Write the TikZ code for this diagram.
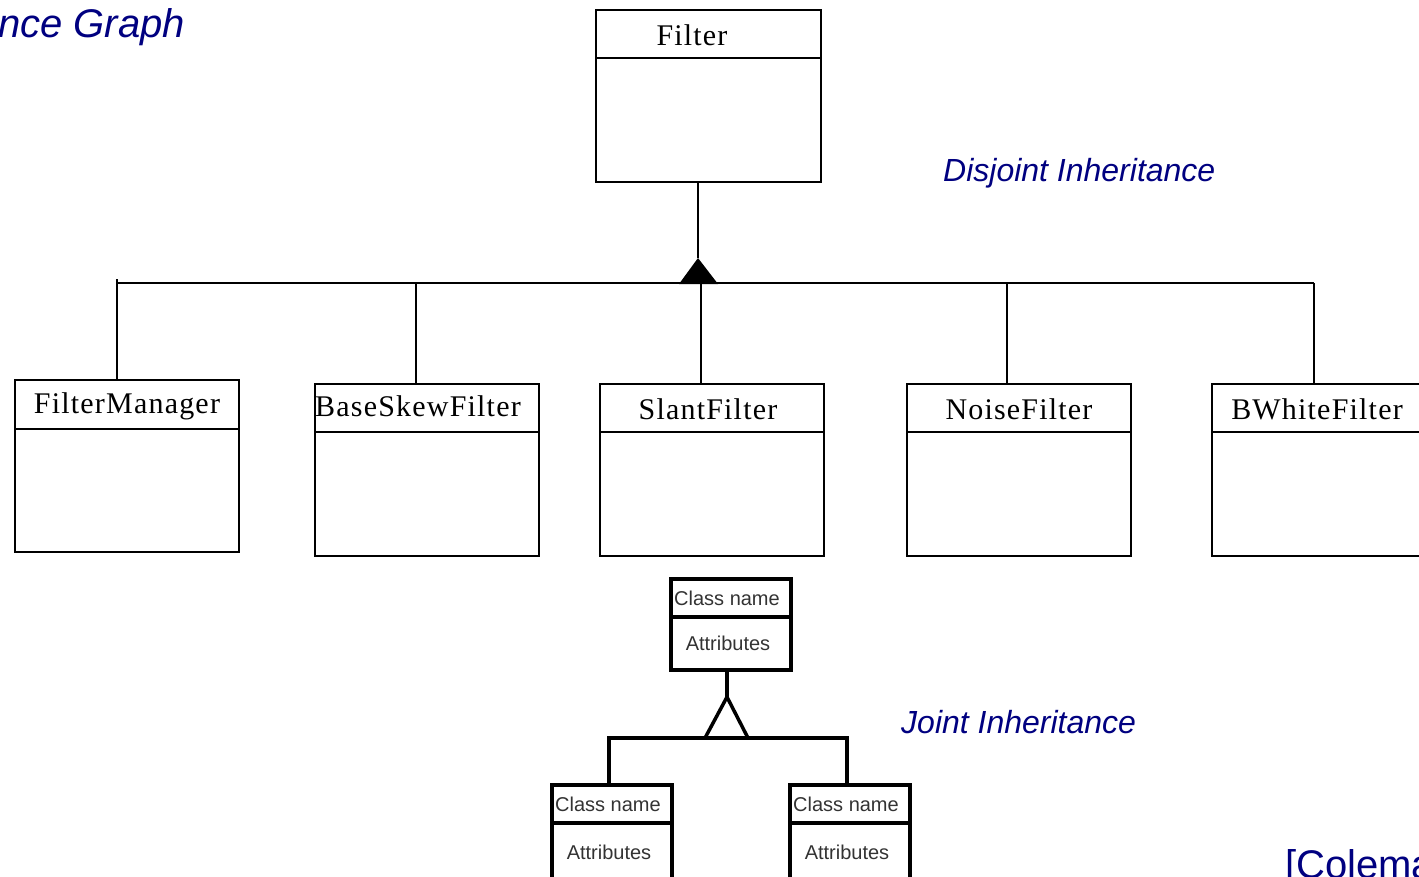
\documentclass[tikz,border=0pt]{standalone}
\usepackage{fontspec}
\setmainfont{Liberation Serif}
\newfontfamily\sansf{Liberation Sans}
\newfontfamily\umlfont[LetterSpace=4]{Liberation Serif}
\definecolor{labelblue}{HTML}{000080}
\begin{document}
\begin{tikzpicture}[x=1pt,y=-1pt,
  clsbox/.style={draw, line width=1.8pt, inner sep=0pt, anchor=north west, minimum width=224pt, minimum height=172pt},
  clsname/.style={font=\umlfont\fontsize{30}{36}\selectfont, inner sep=0pt},
  lbl/.style={font=\sansf\itshape\fontsize{32}{38}\selectfont, text=labelblue, inner sep=0pt},
  conn/.style={line width=1.8pt},
  jbox/.style={draw, line width=3.5pt, inner sep=0pt, anchor=north west, minimum width=120pt},
  jtext/.style={font=\sansf\fontsize{20}{24}\selectfont, text=black!80, inner sep=0pt},
  jconn/.style={line width=3.5pt, line join=miter}
]
\useasboundingbox (0,0) rectangle (1419,876);
\clip (0,0) rectangle (1419,876);

% titles / labels
\node[lbl, font=\sansf\itshape\fontsize{40}{48}\selectfont, anchor=base east] (title) at (185,37) {Inheritance Graph};
\node[lbl, anchor=base west] (disj) at (943,181) {Disjoint Inheritance};
\node[lbl, anchor=base west] (joint) at (901,733) {Joint Inheritance};
\node[lbl, font=\sansf\fontsize{40}{48}\selectfont, anchor=base west] (ref) at (1285,878) {[Coleman};

% Filter classes
\node[clsbox, minimum width=225pt] (filter) at (595,9) {};
\draw[conn] (595,58) -- (820,58);
\node[clsname] (filtern) at (692,35) {Filter};

\node[clsbox] (fm) at (14,379) {};
\draw[conn] (14,429) -- (238,429);
\node[clsname] (fmn) at (127,406) {FilterManager};

\node[clsbox] (bsf) at (314,383) {};
\draw[conn] (314,432) -- (538,432);
\node[clsname] (bsfn) at (418,406) {BaseSkewFilter};

\node[clsbox] (sf) at (599,383) {};
\draw[conn] (599,432) -- (823,432);
\node[clsname] (sfn) at (708,409) {SlantFilter};

\node[clsbox] (nf) at (906,383) {};
\draw[conn] (906,432) -- (1130,432);
\node[clsname] (nfn) at (1019,409) {NoiseFilter};

\node[clsbox] (bwf) at (1211,383) {};
\draw[conn] (1211,432) -- (1435,432);
\node[clsname] (bwfn) at (1317,409) {BWhiteFilter};

% disjoint inheritance connectors
\coordinate (dapex) at (698,258);
\coordinate (barL) at (117,283);
\coordinate (barR) at (1314,283);
\draw[conn] (dapex |- filter.south) -- (dapex);
\fill (679,284) -- (dapex) -- (718,284) -- cycle;
\draw[conn] (barL) -- (barR);
\draw[conn] (117,279) -- (117,283 |- fm.north);
\draw[conn] (416,283) -- (416,283 |- bsf.north);
\draw[conn] (701,283) -- (701,283 |- sf.north);
\draw[conn] (1007,283) -- (1007,283 |- nf.north);
\draw[conn] (barR) -- (barR |- bwf.north);

% joint inheritance
\node[jbox, minimum height=91pt] (jt) at (669,577) {};
\draw[line width=4pt] (669,617) -- (789,617);
\node[jtext] (jtn) at (727,598) {Class name};
\node[jtext] (jta) at (728,643) {Attributes};

\node[jbox, minimum height=120pt] (jl) at (550,783) {};
\draw[line width=4pt] (550,823) -- (670,823);
\node[jtext] (jln) at (608,804) {Class name};
\node[jtext] (jla) at (609,852) {Attributes};

\node[jbox, minimum height=120pt] (jr) at (788,783) {};
\draw[line width=4pt] (788,823) -- (908,823);
\node[jtext] (jrn) at (846,804) {Class name};
\node[jtext] (jra) at (847,852) {Attributes};

\coordinate (japex) at (727,697);
\draw[jconn] (jt.south -| japex) -- (japex);
\draw[jconn] (705,738) -- (japex) -- (748,738);
\draw[jconn] (609,783 |- jl.north) -- (609,738) -- (847,738) -- (847,738 |- jr.north);
\end{tikzpicture}
\end{document}
